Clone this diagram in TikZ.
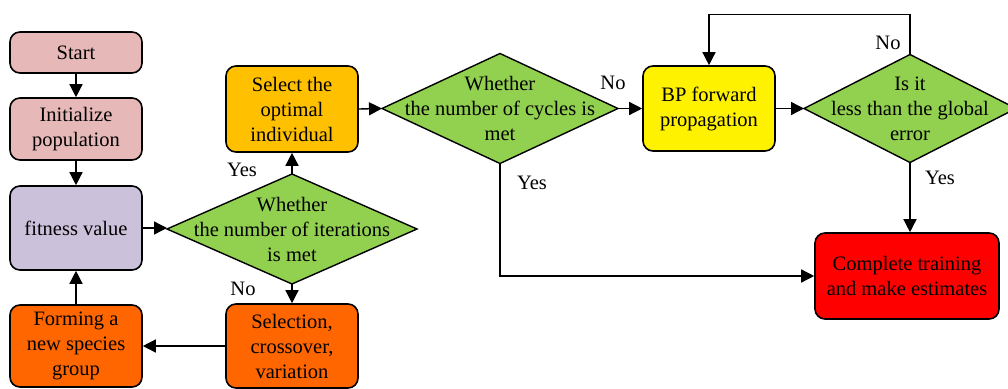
\documentclass[tikz,border=0pt]{standalone}
\usepackage{fontspec}
\setmainfont{Liberation Serif}
\usetikzlibrary{shapes.geometric,arrows.meta}
\definecolor{pinkbox}{HTML}{E6B9B8}
\definecolor{lavbox}{HTML}{CCC1DA}
\definecolor{orangebox}{HTML}{FF6600}
\definecolor{goldbox}{HTML}{FFC000}
\definecolor{greendec}{HTML}{92D050}
\tikzset{
  every node/.style={font=\fontsize{20.5}{25}\selectfont},
  procbox/.style={draw, line width=1.6pt, rounded corners=10pt, align=center,
    minimum width=132pt, inner sep=0pt},
  decision/.style={diamond, draw, line width=1.4pt, inner sep=0pt, outer sep=0pt,
    fill=greendec},
  flow/.style={line width=1.4pt, -{Triangle[length=13pt,width=13pt]}},
  lbl/.style={inner sep=0pt}
}
\begin{document}
\begin{tikzpicture}[x=1pt,y=-1pt]
\useasboundingbox (0,0) rectangle (1008,388);

% left column: initialisation and GA loop
\node[procbox, fill=pinkbox, minimum height=41pt] (start) at (76,52.5) {Start};
\node[procbox, fill=pinkbox, minimum height=62pt] (init) at (76,129) {Initialize\\population};
\node[procbox, fill=lavbox, minimum height=84pt] (fit) at (76,228) {fitness value};
\node[procbox, fill=orangebox, minimum height=82pt] (form) at (76,346) {Forming a\\new species\\group};

% iteration test and its branches
\node[decision, minimum width=250pt, minimum height=110pt] (d1) at (292,229) {};
\node[align=center] at (d1) {Whether\\the number of iterations\\is met};
\node[procbox, fill=goldbox, minimum height=86pt] (opt) at (292,109) {Select the\\optimal\\individual};
\node[procbox, fill=orangebox, minimum height=84pt] (sel) at (292,346) {Selection,\\crossover,\\variation};

% BP training loop
\node[decision, minimum width=236pt, minimum height=110pt] (d2) at (500,108.5) {};
\node[align=center] at (d2) {Whether\\the number of cycles is\\met};
\node[procbox, fill=yellow, minimum height=85pt] (bp) at (709,108.5) {BP forward\\propagation};
\node[decision, minimum width=212pt, minimum height=108pt] (d3) at (910,108.5) {};
\node[align=center] at (d3) {Is it\\less than the global\\error};
\node[procbox, fill=red, minimum width=184pt, minimum height=86pt] (done) at (907,276) {Complete training\\and make estimates};

% connectors
\draw[flow] (start) -- (init);
\draw[flow] (init) -- (fit);
\draw[flow] (fit.east) -- (fit.east -| d1.west);
\draw[flow] (d1.north) -- (opt.south);
\draw[flow] (d1.south) -- (sel.north);
\draw[flow] (sel.west) -- (form.east);
\draw[flow] (form.north) -- (fit.south);
\draw[flow] (opt.east) -- (d2.west);
\draw[flow] (d2.east) -- (bp.west);
\draw[flow] (bp.east) -- (d3.west);
\draw[flow] (d3.north) -- ++(0,-40) -| (bp.north);
\draw[flow] (d3.south) -- (d3.south |- done.north);
\draw[flow] (d2.south) |- (done.west);

% branch labels
\node[lbl] (l1) at (242,170) {Yes};
\node[lbl] (l2) at (243,289) {No};
\node[lbl] (l3) at (613,83) {No};
\node[lbl] (l4) at (532,183) {Yes};
\node[lbl] (l5) at (888,43) {No};
\node[lbl] (l6) at (940,178) {Yes};
\end{tikzpicture}
\end{document}
